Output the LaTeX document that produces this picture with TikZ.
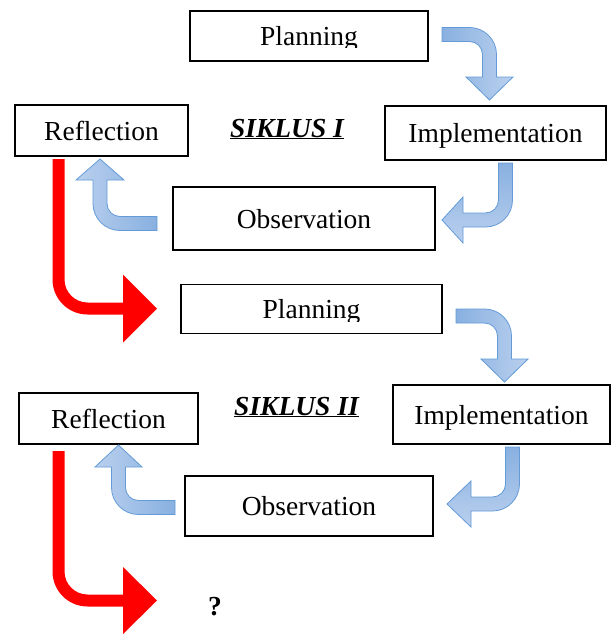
\documentclass[tikz,border=0pt]{standalone}
\usepackage{fontspec}
\setmainfont{Liberation Serif}
\definecolor{bdark}{RGB}{136,176,224}
\definecolor{blight}{RGB}{186,208,238}
\definecolor{bline}{RGB}{100,155,215}
\tikzset{
  boxnode/.style={draw, line width=1.6pt, inner sep=0pt, text height=26pt, text depth=7pt,
    font=\fontsize{27.5}{30}\selectfont},
  bluearr/.style={draw=bline, line width=0.8pt, top color=bdark, bottom color=blight, shading angle=#1},
  redarr/.style={fill=red},
  titletext/.style={font=\fontsize{27.5}{30}\selectfont\bfseries\itshape, anchor=base, inner sep=0pt},
}
% #1 scope options, #2 path style, #3 a, #4 b, #5 r, #6 h, #7 H, #8 T
\newcommand\bentarr[8]{%
  \begin{scope}[#1]
    \path[#2] (0,-#6) -- ({#3-#5},-#6)
      .. controls ({#3-#5+0.5523*(#5+#6)},-#6) and ({#3+#6},{#5-0.5523*(#5+#6)}) .. ({#3+#6},#5)
      -- ({#3+#6},#4) -- ({#3+#7},#4) -- (#3,{#4+#8}) -- ({#3-#7},#4) -- ({#3-#6},#4) -- ({#3-#6},#5)
      .. controls ({#3-#6},{#5-0.5523*(#5-#6)}) and ({#3-#5+0.5523*(#5-#6)},#6) .. ({#3-#5},#6)
      -- (0,#6) -- cycle;
  \end{scope}}
\begin{document}
\begin{tikzpicture}[x=1pt, y=-1pt]
\useasboundingbox (0,0) rectangle (611,634);

% ---- Cycle I boxes
\begin{scope}
  \clip (170,0) rectangle (450,48) (170,54) rectangle (450,70) (170,0) rectangle (194,70) (424,0) rectangle (450,70);
  \node[boxnode, minimum width=238pt, minimum height=50pt] (plan1) at (309,36) {Planning};
\end{scope}
\node[boxnode, minimum width=173pt, minimum height=51pt] (refl1) at (101.5,130.5) {Reflection};
\node[boxnode, minimum width=221pt, minimum height=54pt] (impl1) at (495.5,133) {Implementation};
\node[boxnode, minimum width=262pt, minimum height=63pt] (obs1) at (304,218.5) {Observation};
\node[titletext] (sik1) at (287,137) {\underline{SIKLUS I}};

% ---- Cycle II boxes
\begin{scope}
  \clip (170,270) rectangle (455,321) (170,327) rectangle (455,345) (170,270) rectangle (185,345) (438,270) rectangle (455,345);
  \node[boxnode, minimum width=261pt, minimum height=49pt] (plan2) at (311.5,309) {Planning};
\end{scope}
\node[boxnode, minimum width=179pt, minimum height=51pt] (refl2) at (108.5,418.5) {Reflection};
\node[boxnode, minimum width=217pt, minimum height=59pt] (impl2) at (501.5,414.5) {Implementation};
\node[boxnode, minimum width=248pt, minimum height=60pt] (obs2) at (309,506) {Observation};
\node[titletext] (sik2) at (296.5,415) {\underline{SIKLUS II}};

\node[titletext, font=\fontsize{27.5}{30}\selectfont\bfseries] (q) at (215,615) {?};

% ---- blue bent arrows
\bentarr{shift={(442,34.5)}}{bluearr=90}{47.5}{42.5}{20}{7}{23.5}{23}
\bentarr{shift={(505.5,163)}, rotate=-90}{bluearr=0}{57}{42.5}{20}{7}{23}{21}
\bentarr{shift={(157,223.5)}, rotate=180}{bluearr=-90}{57}{43.5}{20}{7}{24}{21}
\bentarr{shift={(456,316)}}{bluearr=90}{48.5}{43}{20}{7}{23.5}{23}
\bentarr{shift={(512.5,447)}, rotate=-90}{bluearr=0}{57}{41.5}{20}{7}{23}{24}
\bentarr{shift={(175,507.5)}, rotate=180}{bluearr=-90}{56.5}{40.5}{20}{7}{23.5}{22}

% ---- red bent arrows
\bentarr{shift={(58.5,159)}, rotate=-90, yscale=-1}{redarr}{149.5}{64.5}{29}{6}{34}{34}
\bentarr{shift={(58.5,451)}, rotate=-90, yscale=-1}{redarr}{149.5}{64.5}{29}{6}{33.5}{34}
\end{tikzpicture}
\end{document}
